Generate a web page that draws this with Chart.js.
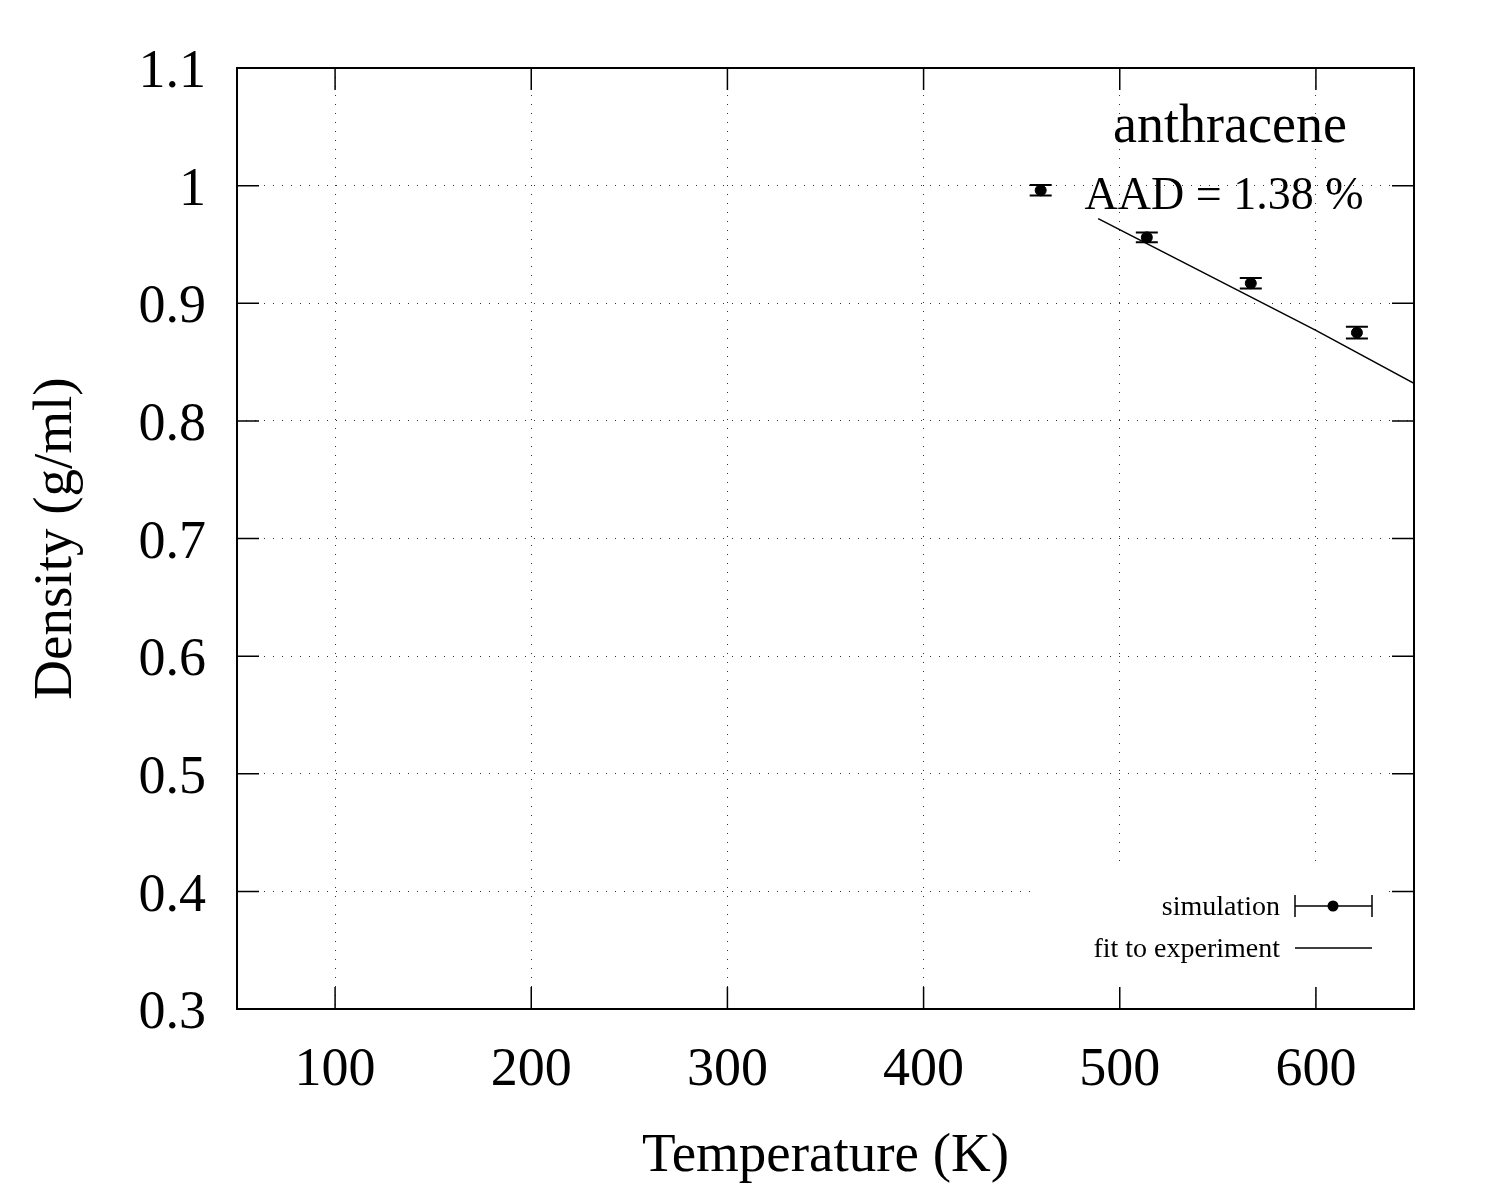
<!DOCTYPE html>
<html>
<head>
<meta charset="utf-8">
<title>anthracene density</title>
<script src="https://cdn.jsdelivr.net/npm/chart.js@4.4.1/dist/chart.umd.min.js"></script>
<style>
  html, body { margin: 0; padding: 0; background: #fff; }
  #wrap { width: 1500px; height: 1200px; position: relative; }
</style>
</head>
<body>
<div id="wrap"><canvas id="chart1"></canvas></div>
<script>
// simulation points (K, g/ml) with error bar half widths
var temperature = [459.7, 513.8, 566.8, 620.9];
var density = [0.996, 0.956, 0.917, 0.875];
var densityErr = [0.0045, 0.0042, 0.0045, 0.005];

// fit to experiment
var fitTemperature = [489, 600, 650];
var fitDensity = [0.972, 0.877, 0.832];

// axes
var xTicks = [100, 200, 300, 400, 500, 600];
var yTicks = [0.3, 0.4, 0.5, 0.6, 0.7, 0.8, 0.9, 1.0, 1.1];

var serif = "'Liberation Serif', 'DejaVu Serif', serif";

function pts(xs, ys) {
    return xs.map(function(x, i) { return { x: x, y: ys[i] }; });
}

// white out grid under the key, like gnuplot does
var keyBox = {
    id: 'keyBox',
    beforeDatasetsDraw: function(chart) {
        var a = chart.chartArea, ctx = chart.ctx;
        ctx.save();
        ctx.fillStyle = '#fff';
        ctx.fillRect(a.right - 378, a.bottom - 147, 350, 125);
        ctx.restore();
    }
};

// error bars, frame, inward ticks, key, labels
var extras = {
    id: 'extras',
    afterDatasetsDraw: function(chart) {
        var ctx = chart.ctx, a = chart.chartArea;
        var xs = chart.scales.x, ys = chart.scales.y;
        ctx.save();
        ctx.strokeStyle = '#000';
        ctx.lineWidth = 2;
        for (var i = 0; i < temperature.length; i++) {
            var px = xs.getPixelForValue(temperature[i]);
            var lo = ys.getPixelForValue(density[i] - densityErr[i]);
            var hi = ys.getPixelForValue(density[i] + densityErr[i]);
            ctx.beginPath();
            ctx.moveTo(px, lo); ctx.lineTo(px, hi);
            ctx.moveTo(px - 11, lo); ctx.lineTo(px + 11, lo);
            ctx.moveTo(px - 11, hi); ctx.lineTo(px + 11, hi);
            ctx.stroke();
        }

        // frame and ticks
        ctx.lineWidth = 2;
        ctx.strokeRect(a.left, a.top, a.right - a.left, a.bottom - a.top);
        ctx.lineWidth = 1.5;
        ctx.beginPath();
        xTicks.forEach(function(v) {
            var p = xs.getPixelForValue(v);
            ctx.moveTo(p, a.bottom); ctx.lineTo(p, a.bottom - 22);
            ctx.moveTo(p, a.top); ctx.lineTo(p, a.top + 22);
        });
        yTicks.forEach(function(v) {
            var p = ys.getPixelForValue(v);
            ctx.moveTo(a.left, p); ctx.lineTo(a.left + 22, p);
            ctx.moveTo(a.right, p); ctx.lineTo(a.right - 22, p);
        });
        ctx.stroke();

        // key
        ctx.fillStyle = '#000';
        ctx.font = '28px ' + serif;
        ctx.textAlign = 'right';
        ctx.textBaseline = 'middle';
        var ky1 = a.bottom - 103, ky2 = a.bottom - 61;
        ctx.fillText('simulation', a.right - 134, ky1 + 2);
        ctx.fillText('fit to experiment', a.right - 134, ky2 + 2);
        ctx.lineWidth = 1.5;
        ctx.beginPath();
        ctx.moveTo(a.right - 119, ky1); ctx.lineTo(a.right - 42, ky1);
        ctx.moveTo(a.right - 119, ky1 - 11); ctx.lineTo(a.right - 119, ky1 + 11);
        ctx.moveTo(a.right - 42, ky1 - 11); ctx.lineTo(a.right - 42, ky1 + 11);
        ctx.moveTo(a.right - 119, ky2); ctx.lineTo(a.right - 42, ky2);
        ctx.stroke();
        ctx.beginPath();
        ctx.arc(a.right - 81, ky1, 5.5, 0, Math.PI * 2);
        ctx.fill();

        // labels
        ctx.textAlign = 'center';
        ctx.textBaseline = 'alphabetic';
        ctx.font = '54px ' + serif;
        ctx.fillText('anthracene', a.right - 184, a.top + 74);
        ctx.font = '46px ' + serif;
        ctx.fillText('AAD = 1.38 %', a.right - 190, a.top + 141);
        ctx.restore();
    }
};

var ctx = document.getElementById('chart1').getContext('2d');
var myChart = new Chart(ctx, {
    type: 'scatter',
    data: {
        datasets: [{
            label: 'simulation',
            data: pts(temperature, density),
            backgroundColor: '#000',
            borderColor: '#000',
            pointRadius: 5.5,
            showLine: false
        },
        {
            label: 'fit to experiment',
            data: pts(fitTemperature, fitDensity),
            borderColor: '#000',
            borderWidth: 1.5,
            pointRadius: 0,
            showLine: true,
            tension: 0
        }]
    },
    options: {
        responsive: true,
        maintainAspectRatio: false,
        animation: false,
        devicePixelRatio: 1,
        layout: {
            padding: { top: 68, right: 86, left: 0, bottom: 0 }
        },
        plugins: {
            legend: { display: false },
            tooltip: { enabled: false }
        },
        scales: {
            x: {
                type: 'linear',
                min: 50,
                max: 650,
                afterBuildTicks: function(scale) {
                    scale.ticks = xTicks.map(function(v) { return { value: v }; });
                },
                afterFit: function(scale) { scale.height = 191; },
                ticks: {
                    color: '#000',
                    padding: 29,
                    maxRotation: 0,
                    font: { family: serif, size: 54 }
                },
                grid: {
                    drawTicks: false,
                    color: '#333',
                    lineWidth: 1
                },
                border: { display: false, dash: [1, 8] },
                title: {
                    display: true,
                    text: 'Temperature (K)',
                    color: '#000',
                    padding: { top: 0, bottom: 10 },
                    font: { family: serif, size: 55 }
                }
            },
            y: {
                type: 'linear',
                min: 0.3,
                max: 1.1,
                afterBuildTicks: function(scale) {
                    scale.ticks = yTicks.map(function(v) { return { value: v }; });
                },
                afterFit: function(scale) { scale.width = 237; },
                ticks: {
                    color: '#000',
                    padding: 31,
                    labelOffset: 5,
                    font: { family: serif, size: 54 },
                    callback: function(v) { return String(+v.toFixed(1)); }
                },
                grid: {
                    drawTicks: false,
                    color: '#333',
                    lineWidth: 1
                },
                border: { display: false, dash: [1, 8] },
                title: {
                    display: true,
                    text: 'Density (g/ml)',
                    color: '#000',
                    padding: { top: 24, bottom: 0 },
                    font: { family: serif, size: 55 }
                }
            }
        }
    },
    plugins: [keyBox, extras]
});
</script>
</body>
</html>
